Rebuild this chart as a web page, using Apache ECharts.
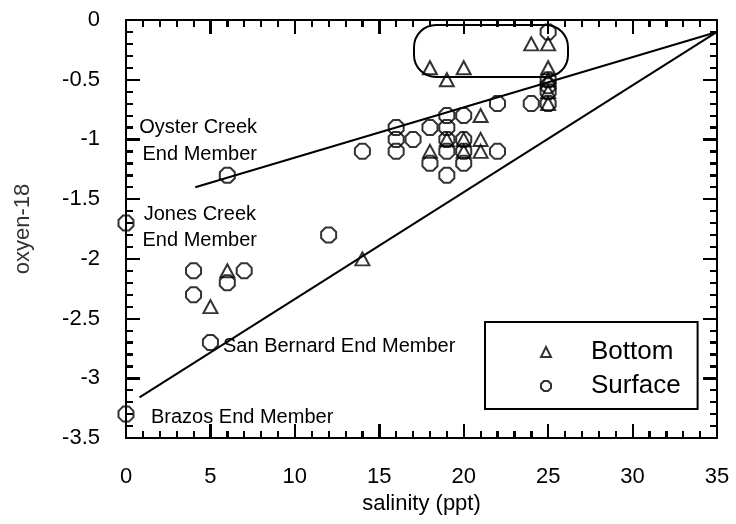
<!DOCTYPE html>
<html>
<head>
<meta charset="utf-8">
<script src="https://cdn.jsdelivr.net/npm/echarts@6/dist/echarts.min.js"></script>
<style>
html, body { margin: 0; padding: 0; background: #fff; }
#chart { width: 736px; height: 524px; }
</style>
</head>
<body>
<div id="chart"></div>
<script>
// bottom samples (triangles)
var bottomSal = [5, 6, 14, 18, 18, 19, 19, 20, 20, 20, 21, 21, 21, 24, 25, 25, 25, 25, 25];
var bottomO18 = [-2.4, -2.1, -2.0, -0.4, -1.1, -0.5, -1.0, -0.4, -1.0, -1.1, -0.8, -1.0, -1.1, -0.2, -0.2, -0.4, -0.5, -0.6, -0.7];

// surface samples (hexagons)
var surfaceSal = [0, 0, 4, 4, 5, 6, 6, 7, 12, 14, 16, 16, 16, 17, 18, 18, 19, 19, 19, 19, 19, 20, 20, 20, 20, 22, 22, 24, 25, 25, 25, 25, 25];
var surfaceO18 = [-1.7, -3.3, -2.1, -2.3, -2.7, -1.3, -2.2, -2.1, -1.8, -1.1, -0.9, -1.0, -1.1, -1.0, -0.9, -1.2, -0.8, -0.9, -1.0, -1.1, -1.3, -0.8, -1.0, -1.1, -1.2, -0.7, -1.1, -0.7, -0.1, -0.5, -0.55, -0.6, -0.7];

// mixing lines (end points)
var oysterLineX = [4.1, 35];
var oysterLineY = [-1.4, -0.1];
var brazosLineX = [0.8, 35];
var brazosLineY = [-3.16, -0.1];

// rounded box around the upper points
var ovalX = [17.05, 26.2];
var ovalY = [-0.04, -0.48];

// axis ranges: major step, minor ticks per major
var xTicks = { min: 0, max: 35, step: 5, minor: 5 };
var yTicks = { min: -3.5, max: 0, step: 0.5, minor: 5 };

function pairs(xs, ys) {
    var out = [];
    for (var i = 0; i < xs.length; i++) out.push([xs[i], ys[i]]);
    return out;
}

var hexPath = 'path://M30,0 L70,0 L100,30 L100,70 L70,100 L30,100 L0,70 L0,30 Z';
var font = "'Liberation Sans', Arial, sans-serif";
var MAJOR = 14, MINOR = 7;
var blackLine = { color: '#000', width: 2 };

function frameAxis(pos, isX, showLabel) {
    return {
        type: 'value',
        position: pos,
        min: isX ? xTicks.min : yTicks.min,
        max: isX ? xTicks.max : yTicks.max,
        interval: isX ? xTicks.step : yTicks.step,
        axisLine: { show: true, onZero: false, lineStyle: blackLine },
        axisTick: { show: false },
        splitLine: { show: false },
        axisLabel: { show: showLabel, color: '#000', fontFamily: font, fontSize: 22, margin: isX ? 28 : 26 }
    };
}

// tick-only axis pulled into the plot, its outward ticks end on the frame
function tickAxis(pos, isX, len, withMinor) {
    var ax = frameAxis(pos, isX, false);
    ax.offset = -len;
    ax.axisLine = { show: false, onZero: false };
    ax.axisTick = { show: true, length: len, lineStyle: blackLine };
    ax.minorTick = { show: withMinor, splitNumber: isX ? xTicks.minor : yTicks.minor, length: len, lineStyle: blackLine };
    return ax;
}

var chart = echarts.init(document.getElementById('chart'));

var xBottom = frameAxis('bottom', true, true);
xBottom.name = 'salinity (ppt)';
xBottom.nameLocation = 'middle';
xBottom.nameGap = 52;
xBottom.nameTextStyle = { color: '#000', fontFamily: font, fontSize: 22 };

var yLeft = frameAxis('left', false, true);
yLeft.name = 'oxyen-18';
yLeft.nameLocation = 'middle';
yLeft.nameGap = 92;
yLeft.nameTextStyle = { color: '#333', fontFamily: font, fontSize: 22 };

var option = {
    animation: false,
    backgroundColor: '#fff',
    grid: { left: 126, right: 19, top: 20, bottom: 86 },
    xAxis: [
        xBottom, frameAxis('top', true, false),
        tickAxis('bottom', true, MAJOR, false), tickAxis('bottom', true, MINOR, true),
        tickAxis('top', true, MAJOR, false), tickAxis('top', true, MINOR, true)
    ],
    yAxis: [
        yLeft, frameAxis('right', false, false),
        tickAxis('left', false, MAJOR, false), tickAxis('left', false, MINOR, true),
        tickAxis('right', false, MAJOR, false), tickAxis('right', false, MINOR, true)
    ],
    legend: {
        data: ['Bottom', 'Surface'],
        orient: 'vertical',
        left: 485,
        top: 322,
        itemWidth: 10,
        itemHeight: 10,
        itemGap: 6,
        padding: [16, 17, 9, 55],
        borderColor: '#000',
        borderWidth: 2,
        textStyle: { color: '#000', fontFamily: font, fontSize: 26, lineHeight: 28, padding: [0, 0, 0, 35] }
    },
    series: [
        {
            type: 'line', data: pairs(oysterLineX, oysterLineY), showSymbol: false, silent: true,
            lineStyle: { color: '#000', width: 2 }
        },
        {
            type: 'line', data: pairs(brazosLineX, brazosLineY), showSymbol: false, silent: true,
            lineStyle: { color: '#000', width: 2 }
        },
        {
            name: 'Bottom', type: 'scatter', data: pairs(bottomSal, bottomO18),
            symbol: 'triangle', symbolSize: [14, 13],
            itemStyle: { color: 'rgba(0,0,0,0)', borderColor: '#000', borderWidth: 2 }
        },
        {
            name: 'Surface', type: 'scatter', data: pairs(surfaceSal, surfaceO18),
            symbol: hexPath, symbolSize: 15,
            itemStyle: { color: 'rgba(0,0,0,0)', borderColor: '#000', borderWidth: 2 }
        }
    ]
};

chart.setOption(option);

// pixel position of a data point
function pix(x, y) {
    var p = chart.convertToPixel({ gridIndex: 0 }, [x, y]);
    return [Math.round(p[0]), Math.round(p[1])];
}

// same inward ticks again as thin filled bars, in case the axes skip them
var cornerLB = pix(xTicks.min, yTicks.min);
var cornerRT = pix(xTicks.max, yTicks.max);

function bar(x, y, w, h) {
    return {
        type: 'rect', silent: true, z: 10,
        shape: { x: x, y: y, width: w, height: h },
        style: { fill: '#000' }
    };
}

var marks = [];
var nx = Math.round((xTicks.max - xTicks.min) / xTicks.step * xTicks.minor);
for (var i = 0; i <= nx; i++) {
    var px = pix(xTicks.min + i * xTicks.step / xTicks.minor, yTicks.min)[0];
    var len = i % xTicks.minor === 0 ? MAJOR : MINOR;
    marks.push(bar(px - 1, cornerLB[1] - len, 2, len));
    marks.push(bar(px - 1, cornerRT[1], 2, len));
}
var ny = Math.round((yTicks.max - yTicks.min) / yTicks.step * yTicks.minor);
for (var j = 0; j <= ny; j++) {
    var py = pix(xTicks.min, yTicks.min + j * yTicks.step / yTicks.minor)[1];
    var ylen = j % yTicks.minor === 0 ? MAJOR : MINOR;
    marks.push(bar(cornerLB[0], py - 1, ylen, 2));
    marks.push(bar(cornerRT[0] - ylen, py - 1, ylen, 2));
}

// annotations and the rounded box
var p0 = pix(ovalX[0], ovalY[0]);
var p1 = pix(ovalX[1], ovalY[1]);
var noteStyle = { fill: '#000', font: "20px 'Liberation Sans', Arial, sans-serif", textVerticalAlign: 'middle' };

function note(text, x, y, align) {
    return {
        type: 'text', x: x, y: y,
        style: Object.assign({ text: text, textAlign: align || 'left' }, noteStyle)
    };
}

marks.push({
    type: 'rect',
    shape: { x: p0[0], y: p0[1], width: p1[0] - p0[0], height: p1[1] - p0[1], r: 22 },
    style: { fill: 'none', stroke: '#000', lineWidth: 2 }
});
marks.push(note('Oyster Creek', 257, 127, 'right'));
marks.push(note('End Member', 257, 154, 'right'));
marks.push(note('Jones Creek', 256, 214, 'right'));
marks.push(note('End Member', 257, 240, 'right'));
marks.push(note('San Bernard End Member', 223, 346));
marks.push(note('Brazos End Member', 151, 417));

chart.setOption({ graphic: marks });
</script>
</body>
</html>
